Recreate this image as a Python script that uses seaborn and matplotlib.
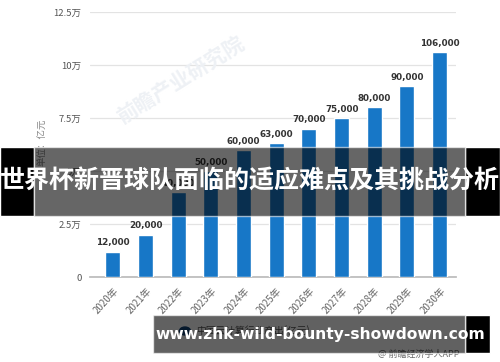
import matplotlib
matplotlib.use("Agg")
import matplotlib.pyplot as plt
import seaborn as sns
import pandas as pd
from matplotlib.patches import Rectangle

years = ["2020年", "2021年", "2022年", "2023年", "2024年", "2025年",
         "2026年", "2027年", "2028年", "2029年", "2030年"]
values = [12000, 20000, 40000, 50000, 60000, 63000, 70000, 75000, 80000, 90000, 106000]
bar_labels = ["12,000", "20,000", "40,000", "50,000", "60,000", "63,000",
              "70,000", "75,000", "80,000", "90,000", "106,000"]
ytick_vals = [0, 25000, 50000, 75000, 100000, 125000]
ytick_labels = ["0", "2.5万", "5万", "7.5万", "10万", "12.5万"]
banner_title = "世界杯新晋球队面临的适应难点及其挑战分析"
banner_url = "www.zhk-wild-bounty-showdown.com"

sns.set_theme(style="white")
plt.rcParams['font.family'] = ['Noto Sans CJK SC', 'DejaVu Sans']

df = pd.DataFrame({"year": years, "value": values})

fig = plt.figure(figsize=(5, 3.62), dpi=100)
ax = fig.add_axes([0.18, 0.2348, 0.732, 0.7321])

sns.barplot(data=df, x="year", y="value", color="#1777c7", width=0.46,
            saturation=1, ax=ax, zorder=3)
ax.set_xlim(-0.7, 10.5)
ax.set_ylim(0, 125000)
ax.set_yticks(ytick_vals)
ax.set_yticklabels(ytick_labels, fontsize=6.8, color="#555555")
ax.yaxis.grid(True, color="#e3e3e3", linewidth=0.9, zorder=0)
ax.set_xlabel("")
ax.set_ylabel("")
for s in ["left", "right", "top"]:
    ax.spines[s].set_visible(False)
ax.spines["bottom"].set_color("#bbbbbb")
ax.tick_params(axis="y", length=0, pad=6)
ax.tick_params(axis="x", length=4, color="#bbbbbb", direction="out", pad=2)
plt.setp(ax.get_xticklabels(), rotation=48, ha="right", rotation_mode="anchor",
         fontsize=7, color="#666666")

for i, (v, lab) in enumerate(zip(values, bar_labels)):
    ax.annotate(lab, (i, v), xytext=(0, 3), textcoords="offset points",
                ha="center", va="bottom", fontsize=6.3, fontweight="bold",
                color="#333333", family=["DejaVu Sans"], zorder=4)

# y unit label
fig.text(0.086, 0.608, "单位：亿元", rotation=90, fontsize=6.8, color="#888888",
         ha="center", va="center")

# watermark
fig.text(0.36, 0.78, "前瞻产业研究院", rotation=32, fontsize=15, color="#eef1f5",
         ha="center", va="center", fontweight="bold", zorder=0)

# legend (mostly hidden)
fig.patches.append(plt.Circle((0.37, 1 - 331 / 362), 0.011, transform=fig.transFigure,
                              color="#0e3f73", zorder=5))
fig.text(0.392, 1 - 331 / 362, "中国云计算行业产出(亿元)", fontsize=7, color="#555555",
         va="center", ha="left", zorder=5)
fig.text(0.92, 1 - 354 / 362, "@ 前瞻经济学人APP", fontsize=6.5, color="#666666",
         va="center", ha="right", zorder=5)

# title banner
by0 = 1 - 216 / 362
bh = (216 - 147) / 362
fig.patches.append(Rectangle((0, by0), 34 / 500, bh, transform=fig.transFigure,
                             facecolor="black", zorder=10))
fig.patches.append(Rectangle((465 / 500, by0), 35 / 500, bh, transform=fig.transFigure,
                             facecolor="black", zorder=10))
fig.patches.append(Rectangle((34 / 500, by0), (465 - 34) / 500, bh, transform=fig.transFigure,
                             facecolor="black", alpha=0.6, zorder=11))
fig.text(0.5, 1 - 181 / 362, banner_title, fontsize=18, fontweight="bold", color="white",
         ha="center", va="center", zorder=12)

# url banner
uy0 = 1 - 353 / 362
uh = (353 - 315) / 362
fig.patches.append(Rectangle((465 / 500, uy0), (490 - 465) / 500, uh, transform=fig.transFigure,
                             facecolor="black", zorder=10))
fig.patches.append(Rectangle((153 / 500, uy0), (465 - 153) / 500, uh, transform=fig.transFigure,
                             facecolor="black", alpha=0.62, zorder=10))
fig.text(320 / 500, 1 - 334 / 362, banner_url, fontsize=11.2, fontweight="bold", color="white",
         ha="center", va="center", zorder=12, family=["DejaVu Sans"])

fig.savefig("out.png", dpi=100)
